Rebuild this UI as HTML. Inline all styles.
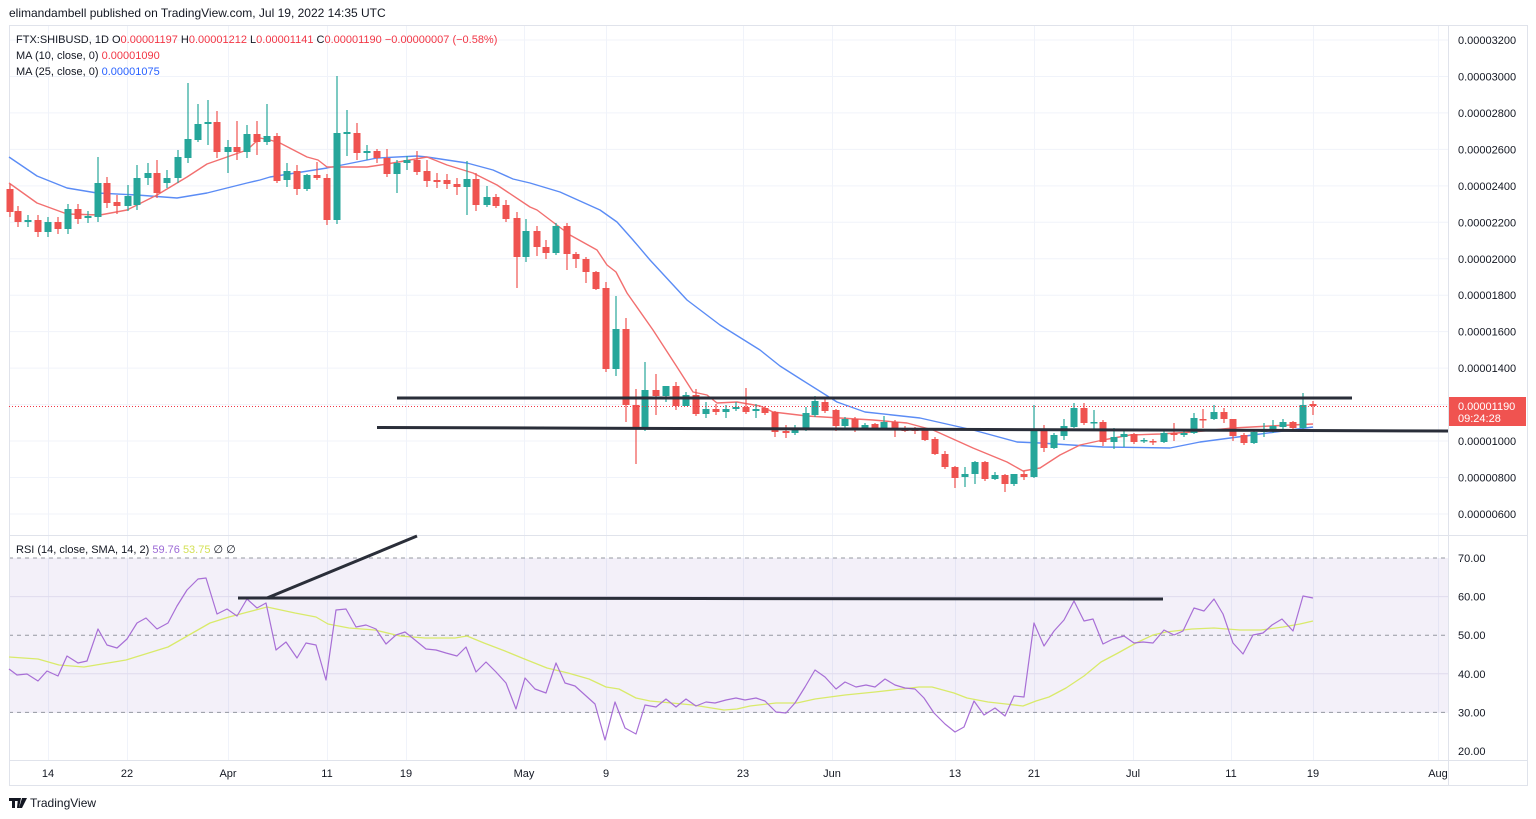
<!DOCTYPE html>
<html><head><meta charset="utf-8">
<style>
html,body{margin:0;padding:0;background:#fff;}
svg{display:block;font-family:"Liberation Sans",sans-serif;}
</style></head>
<body>
<svg id="s" width="1536" height="819" viewBox="0 0 1536 819" xmlns="http://www.w3.org/2000/svg">
<rect width="1536" height="819" fill="#fff"/>
<text x="9" y="17" font-size="12" fill="#131722">elimandambell published on TradingView.com, Jul 19, 2022 14:35 UTC</text>
<g id="grid"></g>
<rect x="9" y="558" width="1439" height="155" fill="#7e57c2" fill-opacity="0.09"/>
<g id="dash"></g>
<g id="frame" fill="none" stroke="#e0e3eb" stroke-width="1">
<rect x="9.5" y="25.5" width="1518" height="760"/>
<line x1="1448.5" y1="25" x2="1448.5" y2="786"/>
<line x1="9" y1="535.5" x2="1528" y2="535.5"/>
<line x1="9" y1="760.5" x2="1528" y2="760.5"/>
</g>
<g id="ma"></g>
<g id="candles"></g>
<g id="rsi"></g>
<g id="draw" stroke="#2a2e39" stroke-width="3" stroke-linecap="butt">
<line x1="397" y1="398" x2="1352" y2="398"/>
<line x1="377" y1="427.5" x2="1448" y2="431"/>
<line x1="238" y1="598" x2="1163" y2="599"/>
<line x1="267" y1="598" x2="417" y2="536"/>
</g>
<line x1="9" y1="406.5" x2="1448" y2="406.5" stroke="#f23645" stroke-width="1" stroke-dasharray="1,2"/>
<g id="labels" font-size="11" fill="#131722"></g>
<rect x="1449" y="397" width="77" height="29" fill="#f05350"/>
<text x="1458" y="410" font-size="11" fill="#fff">0.00001190</text>
<text x="1458" y="422" font-size="11" fill="#fff">09:24:28</text>
<g font-size="11">
<text x="16" y="43" fill="#131722">FTX:SHIBUSD, 1D  O<tspan fill="#f23645">0.00001197</tspan>  H<tspan fill="#f23645">0.00001212</tspan>  L<tspan fill="#f23645">0.00001141</tspan>  C<tspan fill="#f23645">0.00001190</tspan>  <tspan fill="#f23645">−0.00000007 (−0.58%)</tspan></text>
<text x="16" y="59" fill="#131722">MA (10, close, 0)  <tspan fill="#f23645">0.00001090</tspan></text>
<text x="16" y="75" fill="#131722">MA (25, close, 0)  <tspan fill="#2962ff">0.00001075</tspan></text>
<text x="16" y="553" fill="#131722">RSI (14, close, SMA, 14, 2)  <tspan fill="#9c6ad6">59.76</tspan>  <tspan fill="#d4e157">53.75</tspan>  ∅  ∅</text>
</g>
<g transform="translate(9,796)">
<path d="M0 2h9v3h-3v7h-3v-7h-3z M9 2h3l-2 10h-2z M13 2h5l-5 10h-3z" fill="#131722"/>
<text x="21" y="11" font-size="12" fill="#131722">TradingView</text>
</g>
</svg>
<script>
var NS="http://www.w3.org/2000/svg";
function el(p,t,a,txt){var e=document.createElementNS(NS,t);for(var k in a)e.setAttribute(k,a[k]);if(txt!==undefined)e.textContent=txt;document.getElementById(p).appendChild(e);return e;}
// grid
var vx=[48,127,228,327,406,524,606,743,832,955,1034,1133,1231,1313,1438];
vx.forEach(function(x){el('grid','line',{x1:x+.5,y1:26,x2:x+.5,y2:760,stroke:'#f0f3fa','stroke-width':1});});
var prices=[32,30,28,26,24,22,20,18,16,14,12,10,8,6];
prices.forEach(function(p){var y=40+(32-p)*18.23;el('grid','line',{x1:9,y1:y,x2:1448,y2:y,stroke:'#f0f3fa','stroke-width':1});
var s=(p*1e-6).toFixed(8);el('labels','text',{x:1458,y:y+4},s);});
[60,40].forEach(function(r){var y=558+(70-r)*3.86;el('grid','line',{x1:9,y1:y,x2:1448,y2:y,stroke:'#ebe8f3','stroke-width':1});});
[70,50,30].forEach(function(r){var y=558+(70-r)*3.86;el('dash','line',{x1:9,y1:y,x2:1448,y2:y,stroke:'#9598a1','stroke-width':1,'stroke-dasharray':'4,4'});});
[70,60,50,40,30,20].forEach(function(r){var y=558+(70-r)*3.86;el('labels','text',{x:1458,y:y+4},r.toFixed(2));});
var tl=[[48,'14'],[127,'22'],[228,'Apr'],[327,'11'],[406,'19'],[524,'May'],[606,'9'],[743,'23'],[832,'Jun'],[955,'13'],[1034,'21'],[1133,'Jul'],[1231,'11'],[1313,'19'],[1438,'Aug']];
tl.forEach(function(t){el('labels','text',{x:t[0],y:777,'text-anchor':'middle'},t[1]);});
// MAs
var red=[[9,183],[37,203],[67,214],[100,215],[127,210],[157,195],[187,177],[207,164],[247,150],[260,138],[270,140],[280,143],[307,157],[318,160],[327,167],[367,167],[387,164],[427,157],[447,165],[473,173],[497,185],[530,207],[537,210],[570,235],[597,250],[607,265],[616,272],[627,293],[653,330],[677,367],[693,392],[707,395],[717,403],[737,402],[760,406],[773,412],[807,416],[840,418],[873,420],[907,423],[933,430],[973,448],[1007,462],[1023,471],[1040,468],[1060,455],[1080,445],[1103,440],[1130,435],[1160,434],[1193,432],[1233,428],[1270,426],[1313,424]];
var blue=[[9,157],[37,176],[67,188],[97,193],[137,195],[177,198],[207,193],[247,183],[260,180],[270,177],[327,168],[377,158],[417,156],[427,157],[467,163],[493,170],[513,179],[530,183],[560,192],[600,210],[617,222],[633,240],[650,260],[687,300],[720,325],[760,350],[780,366],[802,380],[837,402],[865,412],[920,418],[973,430],[1017,442],[1040,443],[1103,447],[1170,448],[1200,442],[1253,435],[1313,427]];
function pl(g,pts,c,w){el(g,'polyline',{points:pts.map(function(p){return p.join(',')}).join(' '),fill:'none',stroke:c,'stroke-width':w,'stroke-linejoin':'round'});}
pl('ma',blue,'#5b8cf5',1.4);pl('ma',red,'#f26f6f',1.4);
// candles
var C=[[10,189,212,'r'],[18,211,222,'r'],[28,220,222,'g'],[38,220,232,'r'],[48,222,232,'g'],[58,222,229,'r'],[68,209,229,'g'],[78,209,219,'r'],[88,216,218,'g'],[98,183,217,'g',157],[107,183,203,'r',177],[117,202,206,'r',195,214],[128,196,206,'g',185],[137,178,205,'g',165],[148,173,178,'g',163,185],[157,173,193,'r',160],[167,178,183,'g',170],[178,157,178,'g',150],[188,139,158,'g',83],[198,124,140,'g',104,142],[208,122,124,'g',100,145],[217,122,152,'r',111,158],[228,147,152,'g',140,173],[237,147,152,'r',121,160],[247,134,152,'g',125,158],[257,134,142,'r',121,155],[267,136,142,'g',104,145],[277,136,181,'r',133,183],[287,171,180,'g',163,187],[297,171,189,'r',165,195],[307,175,189,'g',174,191],[317,175,178,'r',162,180],[327,178,220,'r',174,225],[337,133,220,'g',76,224],[347,132,134,'g',110,156],[357,133,153,'r',123,160],[367,151,153,'g',145,160],[377,151,158,'r',149,163],[387,158,174,'r',149,177],[397,163,174,'g',160,193],[407,160,163,'g',156,170],[417,160,172,'r',151,175],[427,171,181,'r',160,187],[437,180,182,'r',173,188],[447,180,184,'r',174,189],[457,184,187,'r',178,195],[467,179,187,'g',161,215],[476,179,205,'r',173,211],[487,197,205,'g',186,207],[496,197,206,'r',194,208],[506,205,219,'r',200,222],[517,218,257,'r',212,288],[526,231,257,'g',219,262],[537,231,247,'r',226,256],[546,247,253,'r',240,259],[556,226,253,'g',223,255],[567,226,254,'r',223,270],[576,254,259,'r',252,268],[586,259,272,'r',257,283],[596,272,289,'r',271,290],[606,288,369,'r',282,372],[616,329,369,'g',296,376],[626,329,405,'r',318,422],[636,405,427,'r',389,464],[645,390,427,'g',362,431],[656,390,396,'r',374,415],[666,386,396,'g',386,402],[676,386,406,'r',382,410],[686,395,406,'g',392,406],[696,395,414,'r',389,416],[706,409,414,'g',402,418],[716,409,412,'r',404,415],[726,409,412,'g',405,418],[736,407,409,'g',402,411],[746,407,412,'r',388,414],[756,409,411,'g',404,418],[765,408,413,'r',406,415],[775,412,432,'r',411,437],[786,431,433,'r',425,438],[795,428,433,'g',425,435],[806,413,428,'g',407,431],[815,401,415,'g',396,417],[825,402,411,'r',399,413],[836,410,426,'r',409,431],[845,419,426,'g',417,428],[855,419,428,'r',417,432],[865,425,428,'g',423,430],[875,424,428,'r',423,430],[884,422,428,'g',416,429],[895,422,429,'r',420,437],[905,428,431,'r',426,432],[915,429,431,'r',427,434],[925,429,440,'r',428,441],[935,439,454,'r',437,455],[945,454,467,'r',451,469],[955,467,478,'r',466,488],[965,474,477,'g',467,487],[975,462,474,'g',461,484],[985,462,479,'r',461,481],[995,475,479,'g',472,480],[1005,475,484,'r',474,492],[1014,474,484,'g',474,486],[1024,474,477,'r',471,480],[1034,429,477,'g',405,478],[1044,429,448,'r',425,452],[1054,435,448,'g',433,449],[1064,426,436,'g',419,440],[1074,408,427,'g',403,428],[1084,408,423,'r',403,425],[1094,422,423,'g',410,430],[1103,422,442,'r',420,446],[1114,437,442,'g',428,449],[1124,434,437,'g',431,447],[1134,434,442,'r',433,444],[1144,440,441,'g',438,443],[1153,441,442,'r',439,445],[1164,433,442,'g',431,443],[1174,433,435,'r',423,441],[1184,433,435,'g',430,437],[1194,418,433,'g',413,434],[1203,419,420,'r',409,428],[1214,412,419,'g',405,420],[1224,412,419,'r',408,423],[1233,419,436,'r',419,441],[1244,435,443,'r',433,445],[1254,432,443,'g',431,444],[1264,429,432,'g',423,437],[1273,426,430,'g',420,433],[1283,422,427,'g',419,429],[1293,422,428,'r',421,430],[1303,405,428,'g',393,429],[1313,404,406,'r',401,415]];
C.forEach(function(c){var x=c[0],t=c[1],b=c[2],col=c[3]=='g'?'#26a69a':'#ef5350';
var h=c[4]!==undefined?c[4]:t-5,l=c[5]!==undefined?c[5]:b+5;
el('candles','line',{x1:x,y1:h,x2:x,y2:l,stroke:col,'stroke-width':1.2});
el('candles','rect',{x:x-3.5,y:t,width:7,height:Math.max(b-t,1.5),fill:col});});
// RSI
var rp=[[9,669],[17,675],[27,674],[38,681],[47,671],[58,676],[67,656],[78,663],[87,661],[98,629],[107,645],[117,648],[127,639],[137,623],[146,618],[157,629],[168,623],[177,606],[187,590],[198,579],[206,578],[217,614],[227,609],[237,616],[247,599],[257,608],[266,603],[276,650],[286,642],[297,658],[306,643],[316,645],[326,680],[336,610],[346,609],[356,627],[366,625],[376,629],[386,644],[396,635],[405,632],[415,640],[426,649],[436,650],[446,653],[457,656],[466,647],[476,672],[486,662],[496,672],[506,683],[516,709],[525,678],[535,689],[546,693],[556,663],[565,683],[575,686],[585,695],[595,704],[605,740],[615,702],[625,728],[636,734],[645,705],[656,707],[666,699],[676,707],[686,699],[696,706],[706,702],[715,703],[726,700],[736,698],[745,700],[756,698],[765,701],[776,712],[786,713],[795,703],[805,687],[815,670],[825,677],[836,689],[845,682],[856,687],[866,685],[875,687],[885,679],[895,685],[905,688],[915,689],[924,698],[934,713],[945,724],[955,732],[964,727],[974,701],[984,715],[995,708],[1005,716],[1014,696],[1024,697],[1034,623],[1044,646],[1054,631],[1064,620],[1074,601],[1084,621],[1093,619],[1103,644],[1113,639],[1124,636],[1134,643],[1143,642],[1153,643],[1164,630],[1174,635],[1183,631],[1194,608],[1204,611],[1214,599],[1223,614],[1233,643],[1243,654],[1253,635],[1263,633],[1272,625],[1282,619],[1293,631],[1303,596],[1313,598]];
var ys=[[9,657],[38,659],[59,665],[84,667],[126,660],[168,647],[189,635],[210,623],[229,617],[248,612],[267,607],[295,613],[316,617],[328,624],[349,628],[375,630],[400,636],[425,638],[455,638],[467,636],[484,643],[505,651],[522,658],[547,668],[568,673],[589,679],[606,687],[619,689],[636,698],[650,701],[693,705],[724,710],[737,709],[750,706],[776,703],[797,703],[815,699],[845,695],[875,692],[893,690],[919,687],[932,687],[954,693],[967,698],[988,702],[1006,704],[1023,706],[1036,701],[1049,697],[1066,688],[1084,676],[1101,662],[1118,653],[1136,643],[1153,635],[1166,632],[1192,629],[1214,628],[1227,629],[1240,630],[1261,630],[1283,627],[1300,624],[1313,621]];
pl('rsi',ys,'#d9ea6a',1.3);pl('rsi',rp,'#a86fd6',1.2);
</script>
</body></html>
